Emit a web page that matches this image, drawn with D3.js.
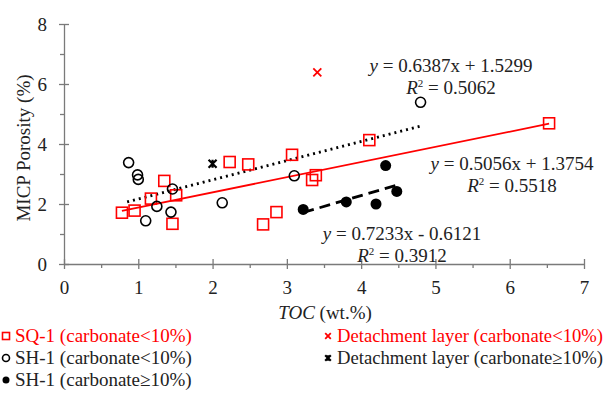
<!DOCTYPE html>
<html>
<head>
<meta charset="utf-8">
<script src="https://cdn.jsdelivr.net/npm/d3@7"></script>
<style>
  body { margin: 0; background: #fff; }
  svg text { font-family: "Liberation Serif", "Times New Roman", serif; }
</style>
</head>
<body>
<div id="chart"></div>
<script>
// data: [TOC, porosity]
var sq1 = [[0.78,1.71],[0.95,1.78],[1.17,2.18],[1.35,2.77],[1.51,2.29],[1.46,1.34],
  [2.23,3.40],[2.48,3.32],[3.07,3.64],[3.39,2.96],[3.34,2.80],[2.86,1.73],[2.68,1.32],
  [4.11,4.13],[6.53,4.69]];
var sh1Low = [[0.87,3.38],[0.99,2.97],[1.0,2.82],[1.46,2.50],[1.25,1.92],[1.44,1.73],
  [1.10,1.44],[2.13,2.04],[3.10,2.94],[4.80,5.39]];
var sh1High = [[3.22,1.82],[3.80,2.07],[4.20,2.00],[4.33,3.28],[4.48,2.42]];
var detLow = [[3.41,6.39]];
var detHigh = [[2.0,3.34]];

var xTicks = [0,1,2,3,4,5,6,7];
var yTicks = [0,2,4,6,8];

// trend lines: slope, intercept, x range
var fits = [
  {slope: 0.5056, icpt: 1.3754, from: 0.78, to: 6.53, color: "#ff0000", dash: null, eq: "0.5056x + 1.3754", r2: "0.5518"},
  {slope: 0.6387, icpt: 1.5299, from: 0.85, to: 4.80, color: "#000", dash: "2,4", eq: "0.6387x + 1.5299", r2: "0.5062"},
  {slope: 0.7233, icpt: -0.6121, from: 3.22, to: 4.48, color: "#000", dash: "11,6", eq: "0.7233x - 0.6121", r2: "0.3912"}
];

var legendItems = [
  {label: "SQ-1 (carbonate<10%)", mark: "square", color: "#ff0000"},
  {label: "SH-1 (carbonate<10%)", mark: "circle", color: "#000"},
  {label: "SH-1 (carbonate\u226510%)", mark: "dot", color: "#000"},
  {label: "Detachment layer (carbonate<10%)", mark: "cross", color: "#ff0000"},
  {label: "Detachment layer (carbonate\u226510%)", mark: "star", color: "#000"}
];

var svgWidth = 607, svgHeight = 399;
var svg = d3.select("#chart").append("svg")
  .attr("width", svgWidth).attr("height", svgHeight);

var x = d3.scaleLinear().domain([0, 7]).range([64, 584]);
var y = d3.scaleLinear().domain([0, 8]).range([264, 24]);
var axisColor = "#7a7a7a";

// minor ticks
svg.append("g").attr("transform", "translate(0,264)")
  .call(d3.axisBottom(x).tickValues(d3.range(0.5, 7, 1)).tickSize(4).tickFormat(""))
  .call(g => g.select(".domain").remove());
svg.append("g").attr("transform", "translate(64,0)")
  .call(d3.axisLeft(y).tickValues([1,3,5,7]).tickSize(4).tickFormat(""))
  .call(g => g.select(".domain").remove());

var xAxis = svg.append("g").attr("transform", "translate(0,264)")
  .call(d3.axisBottom(x).tickValues(xTicks).tickFormat(d3.format("d"))
    .tickSize(5).tickSizeOuter(0).tickPadding(12));
xAxis.selectAll(".tick line").attr("y1", -5);
var yAxis = svg.append("g").attr("transform", "translate(64,0)")
  .call(d3.axisLeft(y).tickValues(yTicks).tickFormat(d3.format("d"))
    .tickSize(5).tickSizeOuter(0).tickPadding(12));
yAxis.selectAll(".tick line").attr("x1", 5);

svg.selectAll(".domain, .tick line").attr("stroke", axisColor).attr("stroke-width", 1.3);
svg.selectAll(".tick text")
  .attr("font-family", "Liberation Serif").attr("font-size", 19).attr("fill", "#222");

// axis titles
svg.append("text")
  .attr("transform", "translate(30,148) rotate(-90)")
  .attr("text-anchor", "middle")
  .attr("font-size", 19).attr("fill", "#222")
  .text("MICP Porosity (%)");

var xt = svg.append("text")
  .attr("x", 325).attr("y", 319)
  .attr("text-anchor", "middle")
  .attr("font-size", 19).attr("fill", "#222");
xt.append("tspan").attr("font-style", "italic").text("TOC");
xt.append("tspan").text(" (wt.%)");

// trend lines
fits.forEach(function(f) {
  svg.append("line")
    .attr("x1", x(f.from)).attr("y1", y(f.slope * f.from + f.icpt))
    .attr("x2", x(f.to)).attr("y2", y(f.slope * f.to + f.icpt))
    .attr("stroke", f.color)
    .attr("stroke-width", f.dash ? 2.8 : 1.8)
    .attr("stroke-dasharray", f.dash);
});

// markers
function drawMark(g, kind, color, cx, cy, s) {
  if (kind === "square") {
    g.append("rect").attr("x", cx - s).attr("y", cy - s)
      .attr("width", 2 * s).attr("height", 2 * s)
      .attr("fill", "none").attr("stroke", color).attr("stroke-width", 1.6);
  } else if (kind === "circle") {
    g.append("circle").attr("cx", cx).attr("cy", cy).attr("r", s)
      .attr("fill", "none").attr("stroke", color).attr("stroke-width", 1.6);
  } else if (kind === "dot") {
    g.append("circle").attr("cx", cx).attr("cy", cy).attr("r", s + 0.5)
      .attr("fill", color);
  } else {
    var d = s * 0.8;
    var p = `M${cx - d},${cy - d}L${cx + d},${cy + d}M${cx - d},${cy + d}L${cx + d},${cy - d}`;
    if (kind === "star") p += `M${cx},${cy - d}L${cx},${cy + d}`;
    g.append("path").attr("d", p).attr("stroke", color)
      .attr("stroke-width", kind === "star" ? 2.2 : 1.8).attr("fill", "none");
  }
}

var marks = svg.append("g");
sq1.forEach(d => drawMark(marks, "square", "#ff0000", x(d[0]), y(d[1]), 5.5));
sh1Low.forEach(d => drawMark(marks, "circle", "#000", x(d[0]), y(d[1]), 5));
sh1High.forEach(d => drawMark(marks, "dot", "#000", x(d[0]), y(d[1]), 5));
detLow.forEach(d => drawMark(marks, "cross", "#ff0000", x(d[0]), y(d[1]), 5));
detHigh.forEach(d => drawMark(marks, "star", "#000", x(d[0]), y(d[1]), 5));

// equations
var eqPos = [[512, 170], [451, 72], [402, 240]];
fits.forEach(function(f, i) {
  var t1 = svg.append("text").attr("x", eqPos[i][0]).attr("y", eqPos[i][1])
    .attr("text-anchor", "middle").attr("font-size", 19).attr("fill", "#222");
  t1.append("tspan").attr("font-style", "italic").text("y");
  t1.append("tspan").text(" = " + f.eq);
  var t2 = svg.append("text").attr("x", eqPos[i][0]).attr("y", eqPos[i][1] + 22)
    .attr("text-anchor", "middle").attr("font-size", 19).attr("fill", "#222");
  t2.append("tspan").attr("font-style", "italic").text("R");
  t2.append("tspan").attr("font-size", 11).attr("dy", -7).text("2");
  t2.append("tspan").attr("dy", 7).text(" = " + f.r2);
});

// legend
var legPos = [[6, 342], [6, 364], [6, 386], [328, 342], [328, 364]];
legendItems.forEach(function(item, i) {
  var lx = legPos[i][0], ly = legPos[i][1];
  drawMark(svg, item.mark, item.color, lx, ly - 6, item.mark === "dot" ? 3 : 3.5);
  svg.append("text").attr("x", lx + 9).attr("y", ly)
    .attr("font-size", i < 3 ? 19 : 18.2)
    .attr("textLength", i < 3 ? null : 266)
    .attr("lengthAdjust", "spacingAndGlyphs")
    .attr("fill", item.color === "#000" ? "#222" : item.color)
    .text(item.label);
});
</script>
</body>
</html>
